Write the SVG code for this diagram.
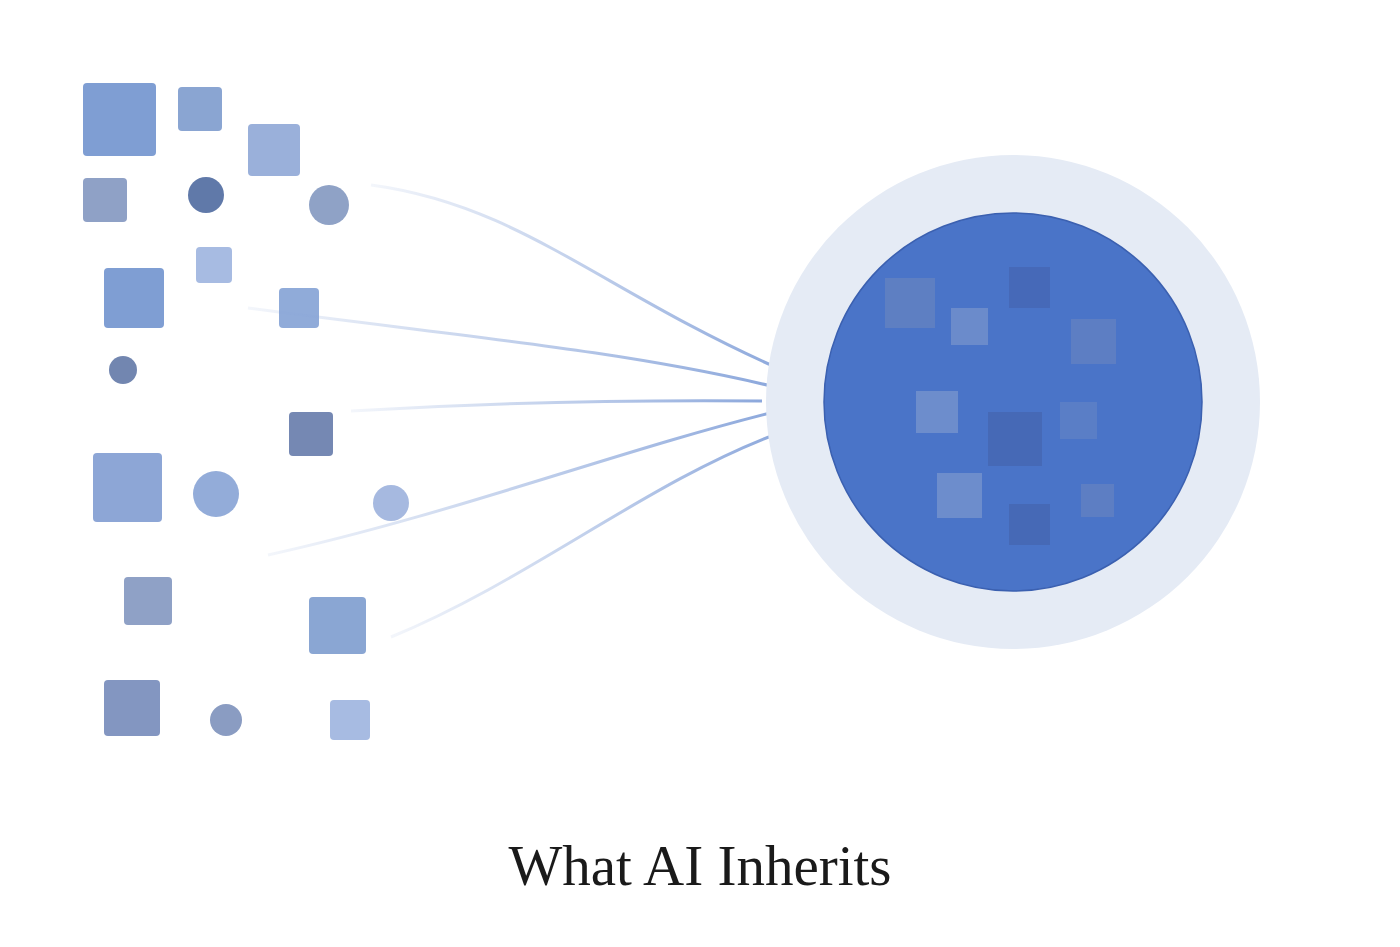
<svg xmlns="http://www.w3.org/2000/svg" width="1400" height="947" viewBox="0 0 1400 947">
<style>
.s{rx:4;ry:4}
.l{fill:none;stroke-width:3;stroke:url(#g)}
.t{font-family:"Liberation Serif","DejaVu Serif",serif;font-size:57px;fill:#1a1a1a}
</style>
<defs>
<linearGradient id="g" gradientUnits="objectBoundingBox" x1="0" y1="0" x2="1" y2="0">
<stop offset="0" stop-color="#8aa5d8" stop-opacity="0.1"/>
<stop offset="1" stop-color="#7f9ed8" stop-opacity="0.9"/>
</linearGradient>
</defs>
<rect width="1400" height="947" fill="#fff"/>
<g id="fragments">
<rect class="s" x="83" y="83" width="73" height="73" fill="#7f9ed3"/>
<rect class="s" x="178" y="87" width="44" height="44" fill="#8aa5d2"/>
<rect class="s" x="248" y="124" width="52" height="52" fill="#9ab0da"/>
<rect class="s" x="83" y="178" width="44" height="44" fill="#8fa1c6"/>
<circle cx="206" cy="195" r="18" fill="#6079a9"/>
<circle cx="329" cy="205" r="20" fill="#8fa2c6"/>
<rect class="s" x="196" y="247" width="36" height="36" fill="#a7bbe2"/>
<rect class="s" x="104" y="268" width="60" height="60" fill="#7f9ed3"/>
<rect class="s" x="279" y="288" width="40" height="40" fill="#90abd9"/>
<circle cx="123" cy="370" r="14" fill="#7286b0"/>
<rect class="s" x="289" y="412" width="44" height="44" fill="#7588b3"/>
<rect class="s" x="93" y="453" width="69" height="69" fill="#8da6d6"/>
<circle cx="216" cy="494" r="23" fill="#93acd9"/>
<circle cx="391" cy="503" r="18" fill="#a6b9e0"/>
<rect class="s" x="124" y="577" width="48" height="48" fill="#8fa1c6"/>
<rect class="s" x="309" y="597" width="57" height="57" fill="#8aa6d3"/>
<rect class="s" x="104" y="680" width="56" height="56" fill="#8396c1"/>
<circle cx="226" cy="720" r="16" fill="#8a9cc2"/>
<rect class="s" x="330" y="700" width="40" height="40" fill="#a7bbe2"/>
</g>
<g id="connectors">
<path class="l" d="M371,185 C520,205 600,290 782,370"/>
<path class="l" d="M248,308 C450,335 620,350 771,386"/>
<path class="l" d="M351,411 C500,402 650,400 762,401"/>
<path class="l" d="M268,555 C450,515 620,450 778,411"/>
<path class="l" d="M391,637 C530,580 650,480 782,432"/>
</g>
<g id="core">
<circle cx="1013" cy="402" r="247" fill="#e5ebf5"/>
<circle cx="1013" cy="402" r="189" fill="#4a74c8" stroke="#3b60b0" stroke-width="1.5"/>
<rect x="885" y="278" width="50" height="50" fill="#5e7fc2"/>
<rect x="951" y="308" width="37" height="37" fill="#6b8bcb"/>
<rect x="1009" y="267" width="41" height="41" fill="#4669b8"/>
<rect x="1071" y="319" width="45" height="45" fill="#5d7ec3"/>
<rect x="916" y="391" width="42" height="42" fill="#6d8dcc"/>
<rect x="988" y="412" width="54" height="54" fill="#4669b6"/>
<rect x="1060" y="402" width="37" height="37" fill="#5a7ec6"/>
<rect x="937" y="473" width="45" height="45" fill="#6d8dcc"/>
<rect x="1009" y="504" width="41" height="41" fill="#4669b6"/>
<rect x="1081" y="484" width="33" height="33" fill="#5d7ec3"/>
</g>
<text class="t" x="700" y="885" text-anchor="middle">What AI Inherits</text>
</svg>
